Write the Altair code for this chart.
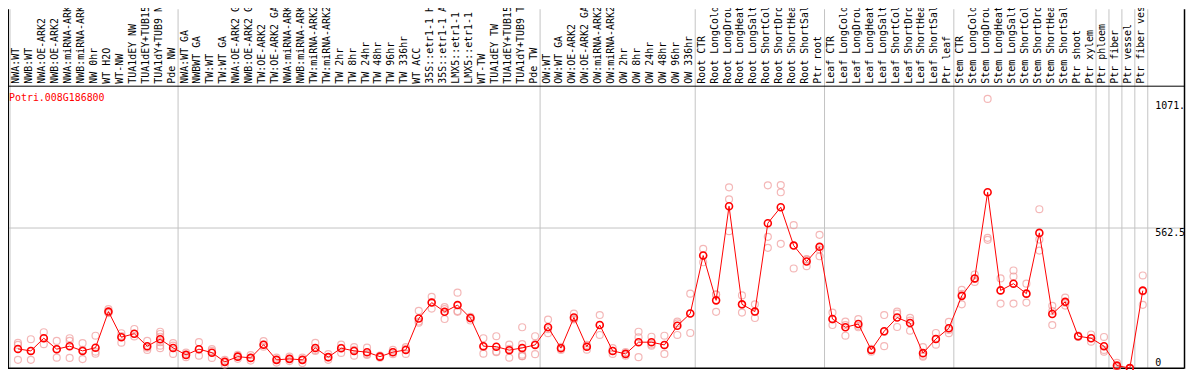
import altair as alt
import pandas as pd

gene_id = "Potri.008G186800"

categories = [
    "NWA:WT", "NWB:WT", "NWA:OE-ARK2", "NWB:OE-ARK2", "NWA:miRNA-ARK2", "NWB:miRNA-ARK2",
    "NW 0hr", "WT H2O", "WT-NW", "TUA1dEY NW", "TUA1dEY+TUB15 NW", "TUA1dY+TUB9 NW", "Pde NW",
    "NWA:WT GA", "NWBWT GA", "TW:WT", "TW:WT GA", "NWA:OE-ARK2 GA", "NWB:OE-ARK2 GA",
    "TW:OE-ARK2", "TW:OE-ARK2 GA", "NWA:miRNA-ARK2 GA", "NWB:miRNA-ARK2 GA", "TW:miRNA-ARK2",
    "TW:miRNA-ARK2 GA", "TW 2hr", "TW 8hr", "TW 24hr", "TW 48hr", "TW 96hr", "TW 336hr",
    "WT ACC", "35S::etr1-1 H2O", "35S::etr1-1 ACC", "LMX5::etr1-1 H2O", "LMX5::etr1-1 ACC",
    "WT-TW", "TUA1dEY TW", "TUA1dEY+TUB15 TW", "TUA1dY+TUB9 TW", "Pde TW",
    "OW:WT", "OW:WT GA", "OW:OE-ARK2", "OW:OE-ARK2 GA", "OW:miRNA-ARK2", "OW:miRNA-ARK2 GA",
    "OW 2hr", "OW 8hr", "OW 24hr", "OW 48hr", "OW 96hr", "OW 336hr",
    "Root CTR", "Root LongCold", "Root LongDrought", "Root LongHeat", "Root LongSalt",
    "Root ShortCold", "Root ShortDrought", "Root ShortHeat", "Root ShortSalt", "Ptr root",
    "Leaf CTR", "Leaf LongCold", "Leaf LongDrought", "Leaf LongHeat", "Leaf LongSalt",
    "Leaf ShortCold", "Leaf ShortDrought", "Leaf ShortHeat", "Leaf ShortSalt", "Ptr leaf",
    "Stem CTR", "Stem LongCold", "Stem LongDrought", "Stem LongHeat", "Stem LongSalt",
    "Stem ShortCold", "Stem ShortDrought", "Stem ShortHeat", "Stem ShortSalt", "Ptr shoot",
    "Ptr xylem", "Ptr phloem", "Ptr fiber", "Ptr vessel", "Ptr fiber vessel",
]

group_sizes = [13, 28, 12, 10, 10, 11, 1, 1, 1, 1]

means = [
    77, 69, 120, 76, 88, 69, 82, 227, 124, 138, 88, 116, 81,
    53, 76, 62, 25, 46, 41, 94, 33, 37, 33, 81, 44, 80, 69, 64, 46, 64, 73,
    199, 263, 226, 253, 201, 88, 86, 72, 81, 93,
    164, 80, 203, 86, 173, 69, 57, 104, 104, 93, 170, 219,
    452, 272, 650, 256, 227, 582, 646, 492, 428, 487,
    197, 164, 177, 73, 148, 203, 181, 60, 117, 160,
    290, 360, 706, 312, 339, 299, 543, 217, 266, 128, 120,
    88, 10, 0, 311,
]

replicates = [
    [101, 93, 33], [116, 69, 33], [144, 120, 96], [109, 76, 42], [120, 109, 41],
    [100, 73, 36], [130, 66, 58], [237, 223, 221], [140, 129, 102], [157, 137, 127],
    [109, 82, 73], [146, 137, 126, 104, 90, 80], [100, 90, 57],
    [62, 53, 44], [104, 76, 50], [76, 69, 41], [33, 25, 14], [53, 46, 37],
    [52, 41, 30], [108, 94, 86], [42, 33, 22], [46, 37, 28], [42, 33, 20],
    [101, 73, 69], [56, 44, 33], [94, 81, 61], [84, 73, 50], [82, 56, 53],
    [50, 46, 42], [73, 64, 56], [84, 77, 57], [230, 187, 182], [286, 264, 239],
    [245, 237, 197], [303, 229, 226], [206, 199, 191], [120, 85, 58], [128, 67, 64],
    [94, 77, 42], [164, 96, 77, 54, 48, 48], [128, 96, 56],
    [195, 156, 140], [85, 80, 73], [219, 197, 195], [93, 86, 74], [213, 173, 133],
    [80, 69, 57], [64, 57, 50], [146, 124, 44], [126, 95, 90], [130, 92, 57],
    [187, 180, 133], [299, 219, 141],
    [479, 452, 425], [296, 295, 226], [726, 678, 550], [292, 254, 223], [256, 225, 201],
    [734, 527, 483], [735, 706, 499], [574, 492, 400], [438, 436, 409], [535, 476, 449],
    [223, 195, 173], [187, 173, 130], [197, 169, 164], [77, 73, 66], [213, 145, 88],
    [227, 219, 165], [202, 191, 150], [84, 50, 46], [141, 117, 94], [186, 153, 140],
    [314, 298, 256], [376, 358, 346], [1081, 523, 515], [360, 312, 259], [392, 368, 259],
    [339, 298, 263], [638, 516, 472], [250, 229, 173], [283, 262, 251], [131, 128, 125],
    [135, 120, 106],
    [125, 73, 66], [21, 7, 3], [0, 0, 0], [372, 308, 254],
]

tick_values = [1071, 562.5, 0]
tick_labels = ["1071.", "562.5", "0"]
grid_value = 562.5

# ---- tables built from the arrays above ----
pos = [i + 0.5 for i in range(len(categories))]
df_mean = pd.DataFrame({"cat": categories, "pos": pos, "mean": means})
rows = []
for i, reps in enumerate(replicates):
    for r in reps:
        rows.append({"cat": categories[i], "pos": pos[i], "value": r})
df_rep = pd.DataFrame(rows)

bounds = [0]
for s in group_sizes:
    bounds.append(bounds[-1] + s)
df_bounds = pd.DataFrame({"b": bounds})
df_ticks = pd.DataFrame({"v": tick_values, "t": tick_labels})
df_grid = pd.DataFrame({"v": [grid_value]})
df_title = pd.DataFrame({"t": [gene_id]})

W, H = 1186, 362
xs = alt.Scale(domain=[-0.1536, 90.958], nice=False, zero=False)
ys = alt.Scale(domain=[-2.79, 1441.2], nice=False, zero=False)
MONO = "DejaVu Sans Mono"

vgrid = alt.Chart(df_bounds).mark_rule(color="#c4c4c4", strokeWidth=1).encode(
    x=alt.X("b:Q", scale=xs, axis=None), y=alt.value(0), y2=alt.value(361)
)
hgrid = alt.Chart(df_grid).mark_rule(color="#c4c4c4", strokeWidth=1).encode(
    y=alt.Y("v:Q", scale=ys, axis=None), x=alt.value(0), x2=alt.value(1184)
)
frame_top = alt.Chart(df_title).mark_rule(color="black", strokeWidth=1).encode(
    y=alt.value(77.5), x=alt.value(0), x2=alt.value(1184)
)
frame_bottom = alt.Chart(df_title).mark_rule(color="black", strokeWidth=1.5).encode(
    y=alt.value(361.5), x=alt.value(0), x2=alt.value(1184)
)
frame_left = alt.Chart(df_title).mark_rule(color="black", strokeWidth=1).encode(
    x=alt.value(0.5), y=alt.value(0), y2=alt.value(362)
)
frame_right = alt.Chart(df_title).mark_rule(color="black", strokeWidth=1.5).encode(
    x=alt.value(1184.5), y=alt.value(0), y2=alt.value(362)
)

labels = alt.Chart(df_mean).mark_text(
    angle=270, align="left", baseline="middle", font=MONO, fontSize=10, color="black"
).encode(x=alt.X("pos:Q", scale=xs, axis=None), y=alt.value(75), text="cat:N")

title = alt.Chart(df_title).mark_text(
    align="left", baseline="middle", font=MONO, fontSize=10, color="#ff0000"
).encode(x=alt.value(1), y=alt.value(89), text="t:N")

ytop = alt.Chart(df_ticks).transform_filter("datum.v > 0").mark_text(
    align="left", baseline="top", font=MONO, fontSize=10, color="black"
).encode(x=alt.value(1155), y=alt.Y("v:Q", scale=ys, axis=None), text="t:N")
ybot = alt.Chart(df_ticks).transform_filter("datum.v <= 0").mark_text(
    align="left", baseline="bottom", font=MONO, fontSize=10, color="black"
).encode(x=alt.value(1155), y=alt.Y("v:Q", scale=ys, axis=None), text="t:N")

reps_layer = alt.Chart(df_rep).mark_point(
    shape="circle", filled=False, size=49, strokeWidth=1.2, color="#f09a9a", xOffset=1.5
).encode(x=alt.X("pos:Q", scale=xs, axis=None), y=alt.Y("value:Q", scale=ys, axis=None))

line_layer = alt.Chart(df_mean).mark_line(color="#ff0000", strokeWidth=1, xOffset=1.5).encode(
    x=alt.X("pos:Q", scale=xs, axis=None), y=alt.Y("mean:Q", scale=ys, axis=None)
)
mean_layer = alt.Chart(df_mean).mark_point(
    shape="circle", filled=False, size=49, strokeWidth=1.6, color="#ff0000", xOffset=1.5, opacity=1
).encode(x=alt.X("pos:Q", scale=xs, axis=None), y=alt.Y("mean:Q", scale=ys, axis=None))

chart = alt.layer(
    vgrid, hgrid, frame_top, frame_bottom, frame_left, frame_right,
    labels, title, ytop, ybot, reps_layer, line_layer, mean_layer
).properties(
    width=W, height=H, padding=0, autosize=alt.AutoSizeParams(type="none")
).configure_view(stroke=None)

chart.save("out.html", embed_options={"renderer": "svg", "actions": False})
